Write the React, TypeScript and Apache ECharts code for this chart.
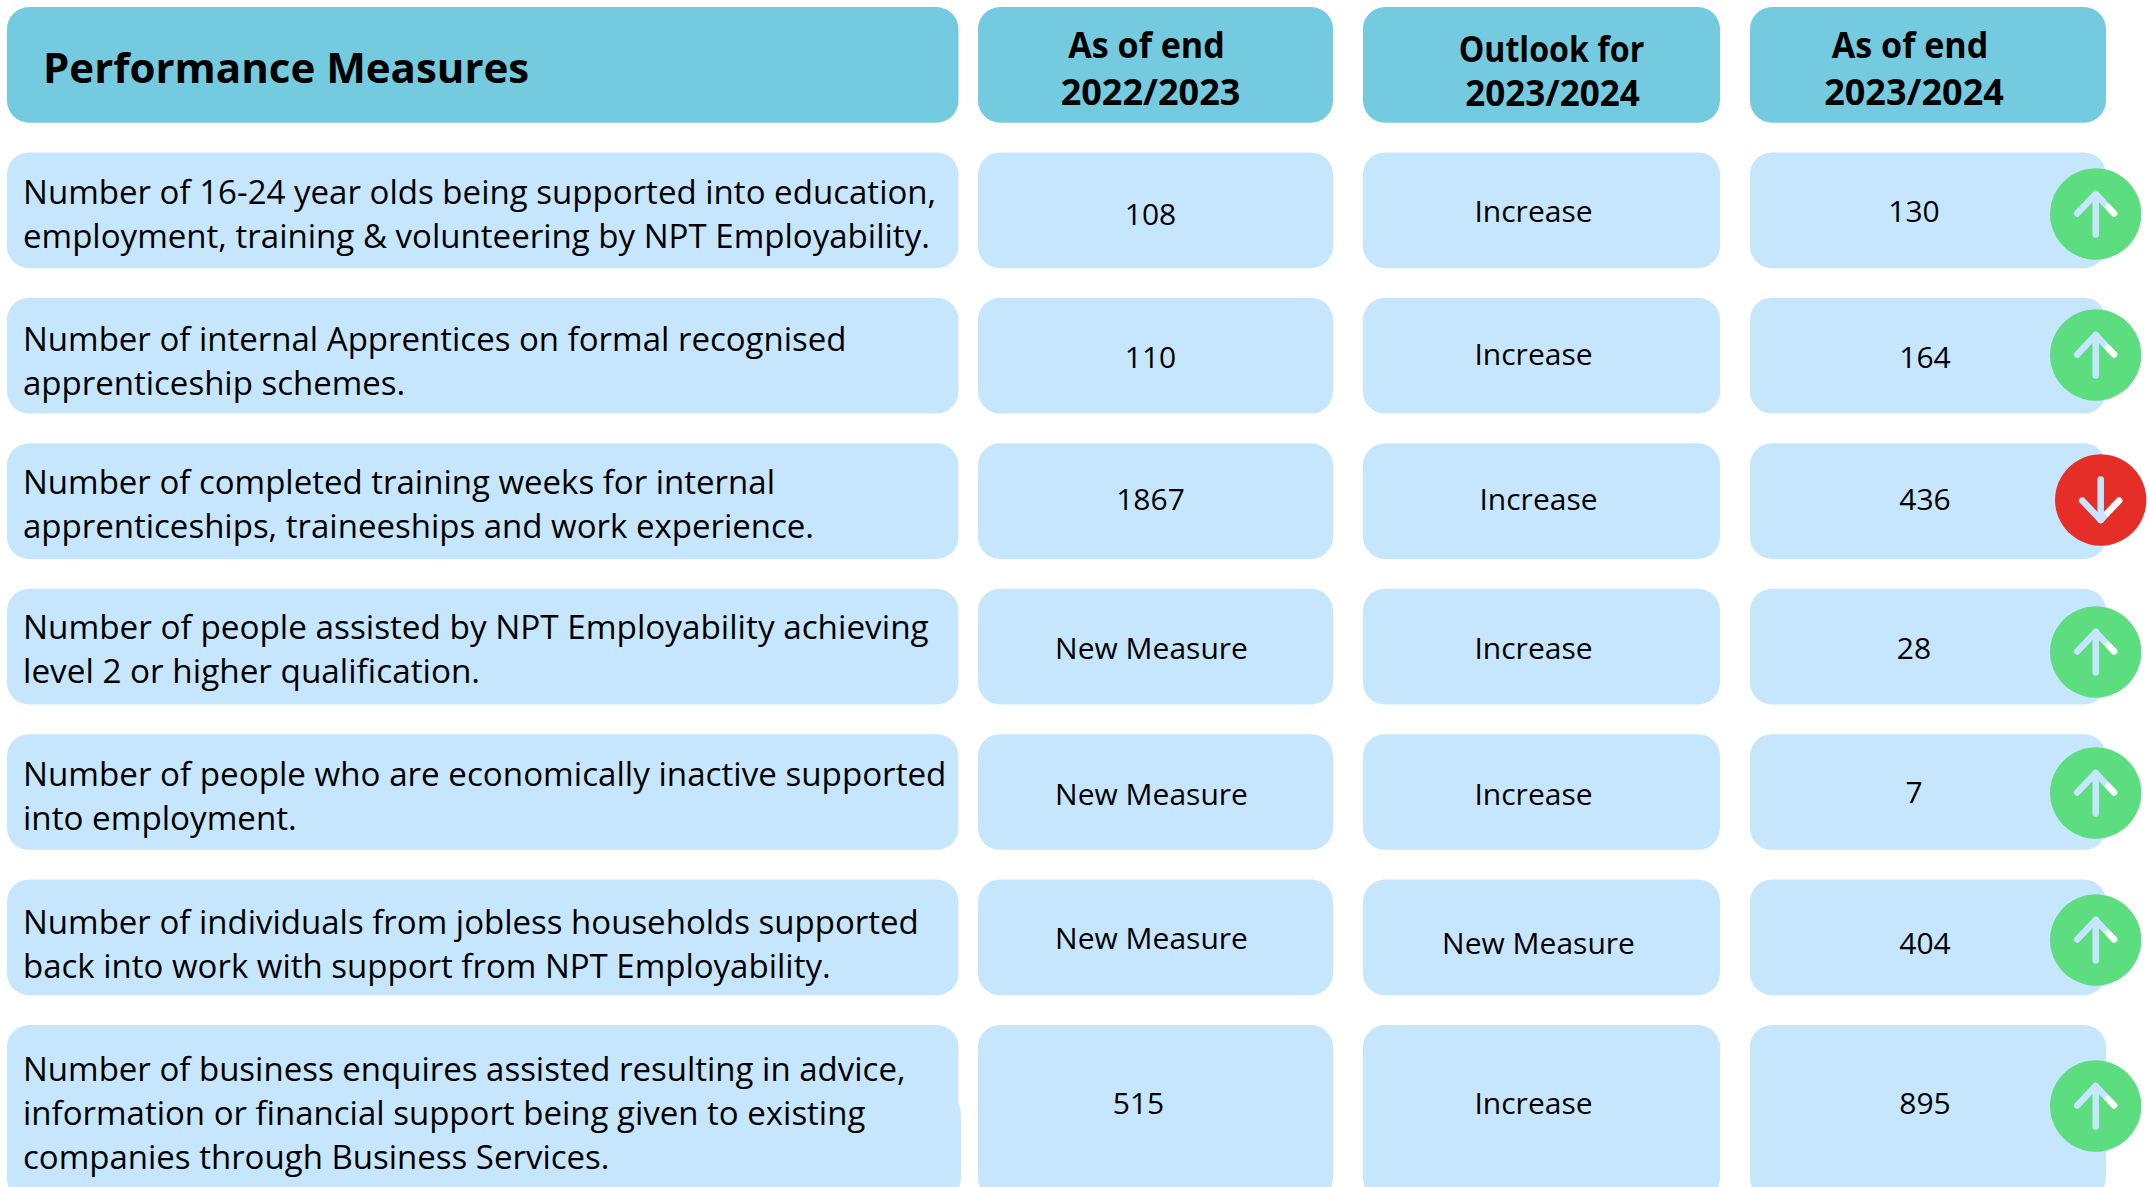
import React, { useEffect, useRef } from "react";
import * as echarts from "echarts";

const tableTitle = "Performance Measures";
const columnHeaders = [["As of end", "2022/2023"], ["Outlook for", "2023/2024"], ["As of end", "2023/2024"]];
const measures = [
  ["Number of 16-24 year olds being supported into education,", "employment, training & volunteering by NPT Employability."],
  ["Number of internal Apprentices on formal recognised", "apprenticeship schemes."],
  ["Number of completed training weeks for internal", "apprenticeships, traineeships and work experience."],
  ["Number of people assisted by NPT Employability achieving", "level 2 or higher qualification."],
  ["Number of people who are economically inactive supported", "into employment."],
  ["Number of individuals from jobless households supported", "back into work with support from NPT Employability."],
  ["Number of business enquires assisted resulting in advice,", "information or financial support being given to existing", "companies through Business Services."],
];
const endOf2223 = ["108", "110", "1867", "New Measure", "New Measure", "New Measure", "515"];
const outlook2324 = ["Increase", "Increase", "Increase", "Increase", "Increase", "New Measure", "Increase"];
const endOf2324 = ["130", "164", "436", "28", "7", "404", "895"];
const directions = ["up", "up", "down", "up", "up", "up", "up"];
const rowLabels = ["header", "r1", "r2", "r3", "r4", "r5", "r6", "r7"];

// layout, in page pixels
const COLS = [[7, 958.5], [978, 1333], [1363, 1720], [1750, 2106]];
const CELL_UP = 57.5;
const CELL_DOWN = 58.2;
const RADIUS = 22;
const LAST_BOTTOM = 1200;
const HEADER_COLOR = "#74CBDF";
const CELL_COLOR = "#C6E6FE";
const BODY_FONT = "'Open Sans'";
const COL_DX = [[-5, -5, -5, -4, -4, -4, -17], [-8, -8, -3, -8, -8, -3, -8], [-14, -3, -3, -14, -14, -3, -3]];
const COL_DY = [[4, 1, -2, 1, 2, 0, 20], [1, -2, -2, 1, 2, 5, 20], [1, 1, -2, 1, 0, 5, 20]];
const MEASURE_DY = [4, 5, 3, 2, 4, 6, 30];
const MEASURE_SCALE = [1.002, 1, 1, 1.009, 1.005, 1, 1];
const ICON_Y = [214, 355, 500, 652, 793, 940, 1106];
const HEADER_DX = [[-9, -5], [10, 11], [-18, -14]];
const HEADER_DY = [[-20, 27], [-16, 28], [-20, 27]];
const HEADER_SCALE = [[0.975, 1.03], [0.92, 1.0], [0.975, 1.03]];

function box(x0: number, x1: number, top: number, bottom: number, fill: string) {
  return {
    type: "rect",
    shape: { x: x0, y: top, width: x1 - x0, height: bottom - top, r: RADIUS },
    style: { fill },
  };
}

function label(text: string, x: number, y: number, size: number, weight: any, align: string, font: string, scaleX = 1) {
  return {
    type: "text",
    x,
    y,
    scaleX,
    style: { text, fill: "#000", fontSize: size, fontWeight: weight, fontFamily: font, align, verticalAlign: "middle" },
  };
}

function arrow(cx: number, cy: number, dir: string) {
  const s = dir === "up" ? 1 : -1;
  const apexY = cy - 20 * s;
  const cutX = dir === "up" ? 11.5 : 6;
  const line = (points: number[][], color: string) => ({
    type: "polyline",
    shape: { points },
    style: { fill: "none", stroke: color, lineWidth: 6.5, lineCap: "round", lineJoin: "round" },
  });
  const barbEndY = cy + 0.5 * -s;
  const t = cutX / 18.5;
  return [
    line([[cx, apexY], [cx, cy + 20.5 * s]], CELL_COLOR),
    line([[cx - 18.5, barbEndY], [cx, apexY], [cx + cutX, apexY + (barbEndY - apexY) * t]], CELL_COLOR),
    line([[cx + cutX + 1, apexY + (barbEndY - apexY) * (t + 1 / 18.5)], [cx + 18.5, barbEndY]], "#FFFFFF"),
  ];
}

function renderRow(_p: any, api: any) {
  const row = api.value(0) as number;
  const cy = api.coord([0, row])[1];
  const children: any[] = [];
  if (row === 0) {
    for (let c = 0; c < 4; c++) children.push(box(COLS[c][0], COLS[c][1], cy - CELL_UP, cy + CELL_DOWN, HEADER_COLOR));
    children.push(label(tableTitle, 43, cy + 2, 42, 700, "left", "'Open Sans'"));
    columnHeaders.forEach((lines, c) => {
      const mid = (COLS[c + 1][0] + COLS[c + 1][1]) / 2;
      lines.forEach((t, i) => children.push(label(t, mid + HEADER_DX[c][i], cy + HEADER_DY[c][i], 35, 700, "center", "'Open Sans'", HEADER_SCALE[c][i])));
    });
    return { type: "group", children };
  }
  const r = row - 1;
  const isLast = row === rowLabels.length - 1;
  const top = cy - CELL_UP;
  const bottom = isLast ? LAST_BOTTOM : cy + CELL_DOWN;
  for (let c = 0; c < 4; c++) children.push(box(COLS[c][0], COLS[c][1], top, bottom, CELL_COLOR));
  if (isLast) children.push(box(COLS[0][0], COLS[0][1] + 2.5, cy + 10, bottom, CELL_COLOR));
  const lines = measures[r];
  lines.forEach((t, i) => {
    const y = cy + MEASURE_DY[r] + (i - (lines.length - 1) / 2) * 44;
    children.push(label(t, 23, y, 33, 400, "left", BODY_FONT, MEASURE_SCALE[r]));
  });
  [endOf2223, outlook2324, endOf2324].forEach((values, c) => {
    const mid = (COLS[c + 1][0] + COLS[c + 1][1]) / 2;
    children.push(label(values[r], mid + COL_DX[c][r], cy + COL_DY[c][r], 30, 400, "center", BODY_FONT));
  });
  const dir = directions[r];
  const ix = dir === "up" ? 2095.7 : 2100.7;
  const iy = ICON_Y[r];
  children.push({ type: "circle", shape: { cx: ix, cy: iy, r: 45.7 }, style: { fill: dir === "up" ? "#5CDE80" : "#E62E28" } });
  children.push(...arrow(ix, iy, dir));
  return { type: "group", children };
}

export default function App() {
  const ref = useRef<HTMLDivElement>(null);
  useEffect(() => {
    document.body.style.margin = "0";
    const chart = echarts.init(ref.current!, null, { renderer: "svg" });
    chart.setOption({
      animation: false,
      backgroundColor: "#FFFFFF",
      grid: { left: 0, top: 64.5, width: 2150, height: 1018 },
      xAxis: { type: "value", min: 0, max: 2150, show: false },
      yAxis: { type: "category", inverse: true, boundaryGap: false, data: rowLabels, show: false },
      series: [
        {
          type: "custom",
          clip: false,
          silent: true,
          renderItem: renderRow,
          encode: { y: 0 },
          data: rowLabels.map((_, i) => [i]),
        },
      ],
    });
    return () => chart.dispose();
  }, []);
  return <div ref={ref} style={{ position: "absolute", left: 0, top: 0, width: 2150, height: 1187 }} />;
}
